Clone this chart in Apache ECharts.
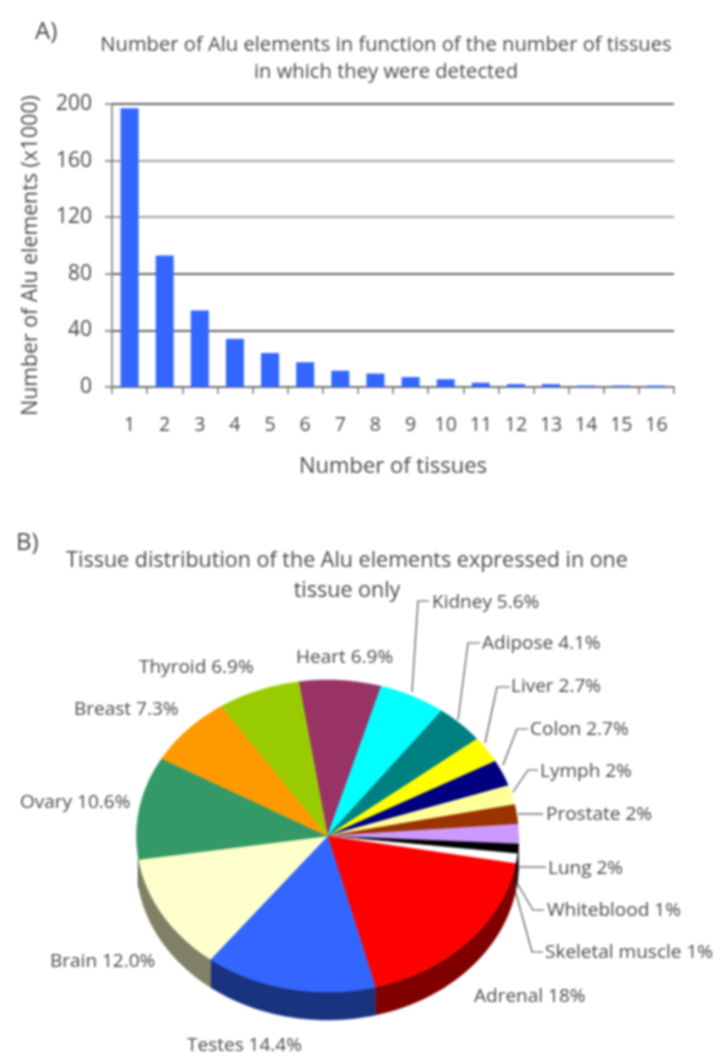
<!DOCTYPE html>
<html>
<head>
<meta charset="utf-8">
<style>
html,body{margin:0;padding:0;background:#fff}
#c{width:720px;height:1056px;filter:blur(0.8px)}
</style>
<script src="https://cdn.jsdelivr.net/npm/echarts@6/dist/echarts.min.js"></script>
</head>
<body>
<div id="c"></div>
<script>
// ---- data: panel A
const tissueCounts = ['1','2','3','4','5','6','7','8','9','10','11','12','13','14','15','16'];
const aluCounts = [197,93,54,34,24,17.5,11.5,9.5,7,5.5,3,2,2,1,1,1];
const yTicks = {min:0,max:200,interval:40};

// ---- data: panel B (clockwise, starting at Heart)
const tissues = ['Heart','Kidney','Adipose','Liver','Colon','Lymph','Prostate','Lung','Whiteblood','Skeletal muscle','Adrenal','Testes','Brain','Ovary','Breast','Thyroid'];
const percents = [6.9,5.6,4.1,2.7,2.7,2,2,2,1,1,18,14.4,12.0,10.6,7.3,6.9];
const percentText = ['6.9%','5.6%','4.1%','2.7%','2.7%','2%','2%','2%','1%','1%','18%','14.4%','12.0%','10.6%','7.3%','6.9%'];

// ---- styles and layout
const topColors = ['#993366','#00ffff','#008080','#ffff00','#000080','#ffff99','#993300','#cc99ff','#000000','#ffffff','#ff0000','#3366ff','#ffffcc','#339966','#ff9900','#99cc00'];
const sideColors = ['#4d1a33','#008080','#004040','#808000','#000040','#80804d','#4d1a00','#664d80','#000000','#000000','#800000','#1a3380','#808066','#1a4d33','#804d00','#4d6600'];
const pie = {cx:327.5,cy:836,rx:191,ry:156,depth:28,startDeg:-8.7,sideFrom:90,sideTo:262};
const labelPos = [[296,658],[432,603],[482,644],[511,687],[530,730],[540,772],[546,815],[548,869],[547,911],[545,953],[474,997],[187,1046],[50,962],[20,803],[74,710],[139,668]];
const leaders = [null,
 [[412,692],[418,601],[429,601]],
 [[458,720],[468,643],[480,643]],
 [[485,743],[497,687],[510,687]],
 [[503,765],[517,729],[528,729]],
 [[513,792],[528,770],[538,770]],
 [[518,814],[543,814]],
 [[518,867],[546,867]],
 [[517,883],[533,910],[544,910]],
 [[515,890],[532,952],[543,952]],
 null,null,null,null,null,null];
const FONT = '"Open Sans", sans-serif';
const TEXT = '#4a4a4a';

const total = percents.reduce((a,b)=>a+b,0);
const ranges = []; 
percents.reduce((acc,v)=>{const e=acc+v/total*360;ranges.push([acc,e]);return e;},pie.startDeg);
const pt = (deg,dy)=>{const r=deg*Math.PI/180;return [pie.cx+pie.rx*Math.sin(r),pie.cy-pie.ry*Math.cos(r)+(dy||0)];};
function arc(a,b,dy){const out=[];const n=Math.max(2,Math.ceil(Math.abs(b-a)));for(let i=0;i<=n;i++)out.push(pt(a+(b-a)*i/n,dy));return out;}

const chart = echarts.init(document.getElementById('c'),null,{renderer:'canvas'});
const T=(id,text,x,y,size,align)=>({id,text,left:x,top:y,textAlign:align||'left',textVerticalAlign:'middle',textStyle:{fontFamily:FONT,fontSize:size,fontWeight:'normal',color:TEXT}});
chart.setOption({
  backgroundColor:'#fff',
  animation:false,
  title:[
    T('pa','A)',30,27,24),
    T('t1','Number of Alu elements in function of the number of tissues',386,40,20.2,'center'),
    T('t2','in which they were detected',386,67,20.2,'center'),
    T('pb','B)',11,538,24),
    T('t3','Tissue distribution of the Alu elements expressed in one',347,556,21.5,'center'),
    T('t4','tissue only',347,586,21.5,'center')
  ].map(t=>(t.id[0]==='t'?Object.assign(t,{left:t.left-5}):t)),
  grid:{left:112,top:104,width:562,height:283,containLabel:false},
  xAxis:{type:'category',data:tissueCounts,
    name:'Number of tissues',nameLocation:'middle',nameGap:69,
    nameTextStyle:{fontFamily:FONT,fontSize:22,color:TEXT},
    axisLine:{lineStyle:{color:'#777',width:1.5}},
    axisTick:{show:true,length:7,alignWithLabel:false,lineStyle:{color:'#777',width:1.5}},
    axisLabel:{interval:0,margin:28,fontFamily:FONT,fontSize:19.5,color:TEXT},
    splitLine:{show:false}},
  yAxis:{type:'value',min:yTicks.min,max:yTicks.max,interval:yTicks.interval,
    name:'Number of Alu elements (x1000)',nameLocation:'middle',nameGap:71,nameRotate:90,
    nameTextStyle:{fontFamily:FONT,fontSize:21.3,color:TEXT,padding:[0,20,0,0]},
    axisLine:{show:true,lineStyle:{color:'#777',width:1.5}},
    axisTick:{show:true,length:7,lineStyle:{color:'#777',width:1.5}},
    axisLabel:{margin:20,fontFamily:FONT,fontSize:21,color:TEXT},
    splitLine:{show:true,lineStyle:{color:['#666','#666','#666','#a0a0a0','#a0a0a0','#666'],width:2}}},
  series:[
    {type:'bar',data:aluCounts,barWidth:18,itemStyle:{color:'#3366ff'},z:3},
    {type:'custom',coordinateSystem:'none',data:percents,z:4,silent:true,
      renderItem:(p)=>{
        const [a,b]=ranges[p.dataIndex];
        const s=Math.max(a,pie.sideFrom),e=Math.min(b,pie.sideTo);
        if(e<=s) return {type:'group',children:[]};
        const pts=arc(s,e,0).concat(arc(e,s,pie.depth));
        return {type:'polygon',shape:{points:pts},style:{fill:sideColors[p.dataIndex],stroke:sideColors[p.dataIndex],lineWidth:0.5}};
      }},
    {type:'custom',coordinateSystem:'none',data:percents,z:5,silent:true,
      renderItem:(p)=>{
        const [a,b]=ranges[p.dataIndex];
        const pts=[[pie.cx,pie.cy]].concat(arc(a,b,0));
        const c=topColors[p.dataIndex];
        return {type:'polygon',shape:{points:pts},style:{fill:c,stroke:c,lineWidth:0.5}};
      }},
    {type:'custom',coordinateSystem:'none',data:tissues,z:6,silent:true,
      renderItem:(p)=>{
        const i=p.dataIndex, kids=[];
        if(leaders[i]) kids.push({type:'polyline',shape:{points:leaders[i]},style:{fill:'none',stroke:'#555',lineWidth:1.2}});
        kids.push({type:'text',style:{text:tissues[i]+' '+percentText[i],x:labelPos[i][0],y:labelPos[i][1],fill:TEXT,font:'19px '+FONT,align:'left',verticalAlign:'middle'}});
        return {type:'group',children:kids};
      }}
  ]
});
</script>
</body>
</html>
